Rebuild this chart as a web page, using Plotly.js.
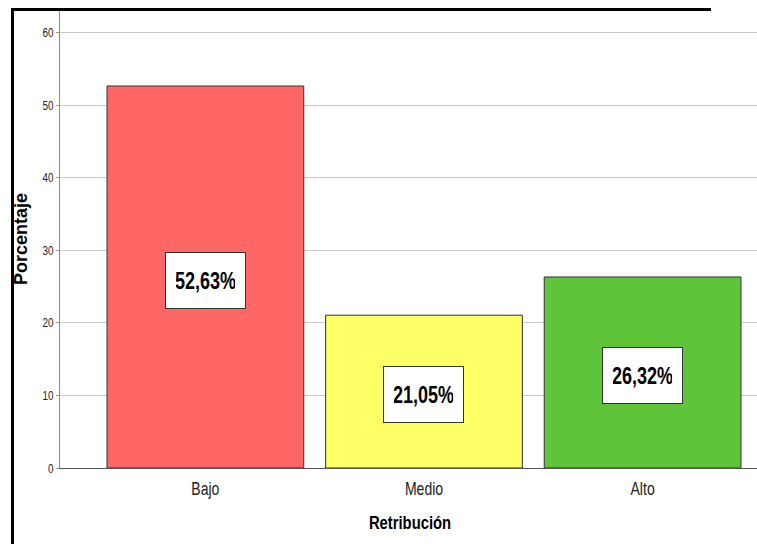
<!DOCTYPE html>
<html>
<head>
<meta charset="utf-8">
<script src="https://cdn.plot.ly/plotly-3.0.1.min.js"></script>
<style>
html,body{margin:0;padding:0;background:#fff;overflow:hidden;}
#wrap{position:relative;width:757px;height:544px;overflow:hidden;}
#chart{position:absolute;left:0;top:0;width:760px;height:544px;}
#fl{position:absolute;left:11px;top:8px;width:3px;height:536px;background:#000;pointer-events:none;}
#ft{position:absolute;left:11px;top:8px;width:700px;height:3px;background:#000;pointer-events:none;}
</style>
</head>
<body>
<div id="wrap"><div id="chart"></div><div id="fl"></div><div id="ft"></div></div>
<script>
const categories = ["Bajo", "Medio", "Alto"];
const percentages = [52.63, 21.05, 26.32];
const labels = ["52,63%", "21,05%", "26,32%"];
const colors = ["#FF6666", "#FFFF66", "#5EC43A"];
const yTicks = [0, 10, 20, 30, 40, 50, 60];

const sans = "'Liberation Sans', Arial, sans-serif";

const trace = {
  type: "bar",
  x: categories,
  y: percentages,
  width: 0.9,
  marker: {color: colors, line: {color: "#333", width: 1}},
  hoverinfo: "none"
};

const annotations = categories.map((c, i) => ({
  x: c, y: percentages[i] / 2, xref: "x", yref: "y",
  text: "<b>" + labels[i] + "</b>",
  showarrow: false,
  yshift: -3,
  font: {family: sans, size: 24, color: "#000"},
  bgcolor: "#fff", bordercolor: "#333", borderwidth: 1, borderpad: 0,
  width: 79, height: 55
}));

const layout = {
  width: 760, height: 544,
  margin: {l: 59.5, r: 0, t: 10, b: 76},
  paper_bgcolor: "#fff", plot_bgcolor: "#fff",
  showlegend: false,
  xaxis: {
    type: "category",
    range: [-0.665, 2.537],
    showline: true, linecolor: "#555", linewidth: 1,
    ticks: "", showgrid: false, zeroline: false,
    ticklabelstandoff: 4,
    tickfont: {family: sans, size: 18, color: "#222"},
    title: {text: "<b>Retribución</b>", font: {family: sans, size: 18.5, color: "#000"}, standoff: 18}
  },
  yaxis: {
    range: [0, 63.1],
    tickvals: yTicks,
    ticktext: yTicks.map(String),
    showline: true, linecolor: "#888", linewidth: 1,
    ticks: "outside", ticklen: 3, tickcolor: "#999",
    showgrid: true, gridcolor: "#c8c8c8", gridwidth: 1,
    zeroline: false,
    tickfont: {family: sans, size: 13, color: "#222"},
    title: {text: "<b>Porcentaje</b>", font: {family: sans, size: 18, color: "#000"}, standoff: 6}
  },
  annotations: annotations,
  bargap: 0.1
};

function condense(sel, s) {
  document.querySelectorAll(sel).forEach(t => {
    const cx = parseFloat(t.getAttribute("x")) || 0;
    const prev = t.getAttribute("transform") || "";
    t.setAttribute("transform", (prev + " translate(" + cx + ",0) scale(" + s + ",1) translate(" + (-cx) + ",0)").trim());
  });
}

Plotly.newPlot("chart", [trace], layout, {displayModeBar: false, staticPlot: true}).then(() => {
  condense("#chart .xtick text", 0.78);
  condense("#chart .ytick text", 0.76);
  condense("#chart .annotation-text", 0.75);
  condense("#chart .xtitle", 0.8);
});
</script>
</body>
</html>
